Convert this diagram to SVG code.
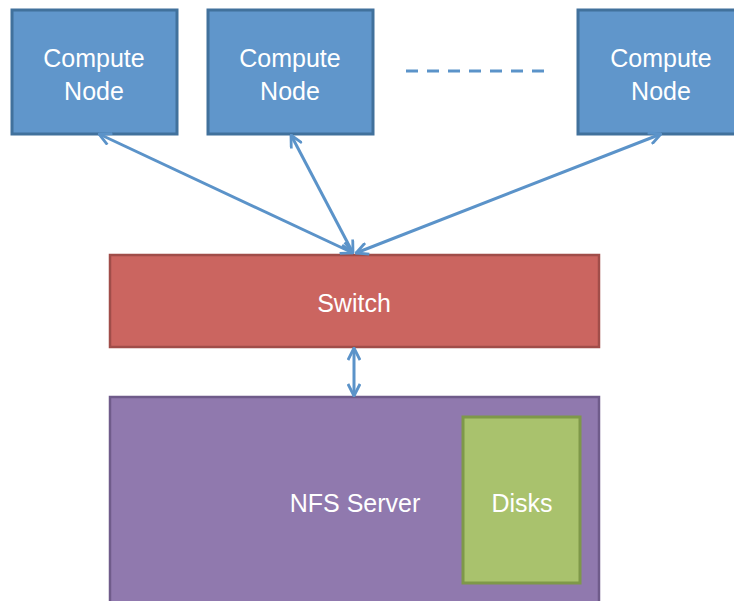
<svg xmlns="http://www.w3.org/2000/svg" width="734" height="601" viewBox="0 0 734 601">
<style>
.cn{fill:#6096CB;stroke:#41719C;stroke-width:3}
.t{font-family:"Liberation Sans",Arial,sans-serif;font-size:25px;fill:#fff;text-anchor:middle}
.c{stroke:#5B93C9;stroke-width:3;fill:none}
</style>
<defs>
<marker id="ah" viewBox="0 0 14 14" refX="13" refY="7" markerWidth="14" markerHeight="14" markerUnits="userSpaceOnUse" orient="auto-start-reverse">
<path d="M1,1 L13,7 L1,13" fill="none" stroke="#5B93C9" stroke-width="2.8"/>
</marker>
</defs>
<rect width="734" height="601" fill="#fff"/>
<g id="compute1"><rect class="cn" x="12" y="10" width="165" height="124"/><text class="t" x="94" y="67">Compute</text><text class="t" x="94" y="100">Node</text></g>
<g id="compute2"><rect class="cn" x="208" y="10" width="165" height="124"/><text class="t" x="290" y="67">Compute</text><text class="t" x="290" y="100">Node</text></g>
<g id="compute3"><rect class="cn" x="578" y="10" width="170" height="124"/><text class="t" x="661" y="67">Compute</text><text class="t" x="661" y="100">Node</text></g>
<g id="ellipsis"><line x1="406" y1="71" x2="553" y2="71" stroke="#5B93C9" stroke-width="3" stroke-dasharray="12,9"/></g>
<g id="switch"><rect x="110" y="255" width="489" height="92" fill="#CB6560" stroke="#A04D49" stroke-width="2.5"/><text class="t" x="354" y="312">Switch</text></g>
<g id="nfs"><rect x="110" y="397" width="489" height="210" fill="#9079AE" stroke="#6F5B8A" stroke-width="2.5"/><text class="t" x="355" y="512">NFS Server</text></g>
<g id="disks"><rect x="463" y="417" width="117" height="166" fill="#A9C26D" stroke="#7E9849" stroke-width="3"/><text class="t" x="522" y="512">Disks</text></g>
<g id="connectors">
<line class="c" x1="99" y1="134" x2="353" y2="253" marker-start="url(#ah)" marker-end="url(#ah)"/>
<line class="c" x1="291" y1="135" x2="353" y2="253" marker-start="url(#ah)" marker-end="url(#ah)"/>
<line class="c" x1="661" y1="134" x2="356" y2="253" marker-start="url(#ah)" marker-end="url(#ah)"/>
<line class="c" x1="354" y1="348" x2="354" y2="396" marker-start="url(#ah)" marker-end="url(#ah)"/>
</g>
</svg>
